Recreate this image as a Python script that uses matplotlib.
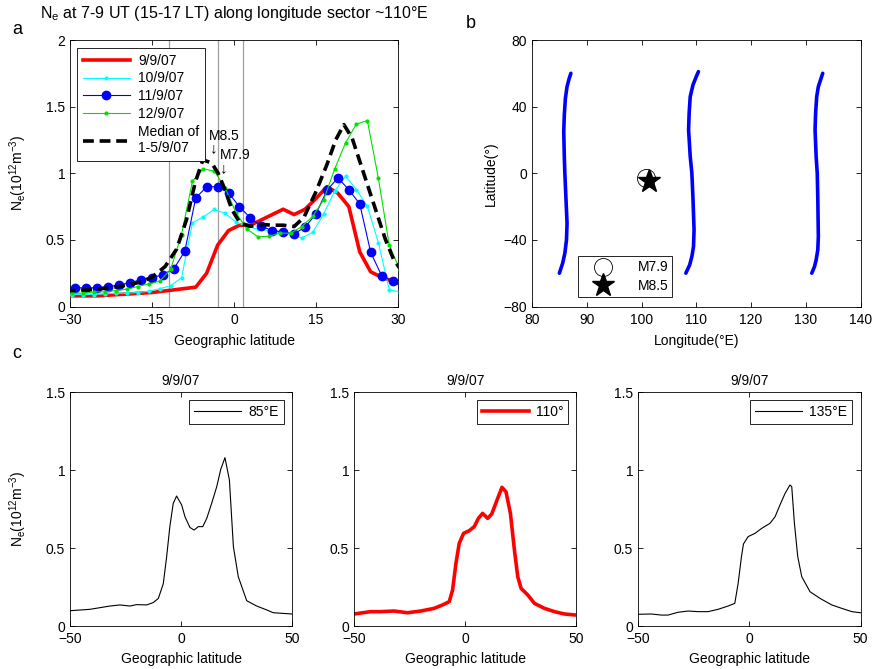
import matplotlib
matplotlib.use('Agg')
import matplotlib.pyplot as plt

plt.rcParams['font.family'] = ['Liberation Sans', 'DejaVu Sans']
plt.rcParams['font.size'] = 10
plt.rcParams['mathtext.fontset'] = 'custom'
plt.rcParams['mathtext.rm'] = 'Liberation Sans'
plt.rcParams['mathtext.it'] = 'Liberation Sans:italic'
plt.rcParams['axes.linewidth'] = 0.6
for ax_ in ('xtick', 'ytick'):
    plt.rcParams[ax_ + '.direction'] = 'in'
    plt.rcParams[ax_ + '.major.size'] = 3.5
    plt.rcParams[ax_ + '.major.width'] = 0.6
plt.rcParams['xtick.top'] = True
plt.rcParams['ytick.right'] = True
plt.rcParams['xtick.major.pad'] = 4.5
plt.rcParams['legend.fancybox'] = False
plt.rcParams['legend.framealpha'] = 1
plt.rcParams['legend.edgecolor'] = 'black'

# ---------------- panel a data ----------------
lat_a = [-31, -29, -27, -25, -23, -21, -19, -17, -15, -13, -11, -9, -7, -5, -3, -1,
         1, 3, 5, 7, 9, 11, 13, 15, 17, 19, 21, 23, 25, 27, 29, 31]
ne_0909 = [0.08, 0.08, 0.08, 0.08, 0.085, 0.09, 0.095, 0.10, 0.105, 0.115, 0.125, 0.135,
           0.145, 0.25, 0.46, 0.57, 0.61, 0.61, 0.65, 0.69, 0.73, 0.69, 0.73, 0.81,
           0.90, 0.85, 0.75, 0.41, 0.26, 0.22, 0.19, 0.16]
ne_1109 = [0.14, 0.14, 0.14, 0.14, 0.15, 0.16, 0.18, 0.20, 0.215, 0.24, 0.283, 0.415,
           0.815, 0.898, 0.90, 0.853, 0.748, 0.665, 0.602, 0.57, 0.56, 0.545, 0.595, 0.695,
           0.872, 0.965, 0.877, 0.77, 0.407, 0.232, 0.19, 0.15]
lat_b = [-31.6, -29.6, -27.6, -25.6, -23.6, -21.6, -19.6, -17.6, -15.6, -13.6, -11.6, -9.6,
         -7.6, -5.6, -3.6, -1.6, 0.4, 2.4, 4.4, 6.4, 8.4, 10.4, 12.4, 14.4, 16.4, 18.4,
         20.4, 22.4, 24.4, 26.4, 28.4, 30.4]
ne_1009 = [0.09, 0.09, 0.09, 0.09, 0.095, 0.10, 0.10, 0.105, 0.115, 0.133, 0.157, 0.215,
           0.628, 0.673, 0.728, 0.698, 0.632, 0.60, 0.58, 0.57, 0.56, 0.54, 0.515, 0.557,
           0.695, 0.865, 0.977, 0.877, 0.752, 0.48, 0.127, 0.107]
ne_1209 = [0.10, 0.10, 0.10, 0.11, 0.11, 0.12, 0.13, 0.15, 0.17, 0.19, 0.278, 0.54,
           0.94, 1.033, 1.015, 0.89, 0.70, 0.58, 0.523, 0.527, 0.55, 0.55, 0.60, 0.677,
           0.80, 1.03, 1.228, 1.37, 1.395, 0.965, 0.46, 0.272]
lat_med = [-31, -29, -27, -25, -23, -21, -19, -17, -15, -12.6, -10.5, -8.7, -7.1, -5.7,
           -4.1, -2.9, -1.65, -0.4, 1.1, 2.9, 5.4, 7, 9, 11, 12.8, 14.9, 17, 18.6, 20.1,
           21.6, 23.1, 24.7, 26.2, 27.7, 29.2, 30.6]
ne_med = [0.12, 0.12, 0.125, 0.13, 0.14, 0.15, 0.165, 0.185, 0.22, 0.30, 0.43, 0.65, 0.93,
          1.10, 1.078, 1.0, 0.877, 0.728, 0.628, 0.602, 0.615, 0.61, 0.61, 0.60, 0.67,
          0.853, 1.065, 1.25, 1.365, 1.265, 1.078, 0.877, 0.69, 0.503, 0.353, 0.27]
vlines_a = [-11.9, -2.9, 1.6]
legend_a = ['9/9/07', '10/9/07', '11/9/07', '12/9/07', 'Median of\n1-5/9/07']

# ---------------- panel b data ----------------
trk1_lat = [60, 57, 52, 45, 35, 25, 10, 0, -15, -30, -40, -48, -54, -60]
trk1_lon = [87.1, 86.8, 86.4, 86.1, 85.9, 85.8, 85.9, 86.0, 86.2, 86.4, 86.3, 86.0, 85.6, 85.0]
trk2_lat = [61, 58, 53, 46, 36, 26, 10, 0, -15, -34, -44, -50, -55, -60]
trk2_lon = [110.4, 110.0, 109.4, 108.9, 108.7, 108.6, 108.9, 109.2, 109.4, 109.6, 109.5, 109.2, 108.8, 108.1]
trk3_lat = [60, 57, 52, 46, 36, 26, 10, 0, -15, -38, -46, -52, -56, -60]
trk3_lon = [133.1, 132.8, 132.3, 132.0, 131.8, 131.7, 131.9, 132.1, 132.2, 132.3, 132.2, 131.9, 131.6, 131.1]
eq_m79 = (100.9, -2.6)
eq_m85 = (101.4, -4.5)

# ---------------- panel c data ----------------
lat_c1 = [-50, -41, -32, -27.5, -23, -20, -15.5, -12.5, -10.2, -8, -6.5, -5, -3.5, -2, 0.3,
          1.8, 4, 5.9, 7.8, 9.8, 11.6, 13.8, 16.1, 17.9, 19.8, 21.8, 23.6, 25.8, 29.6, 34.1,
          38.6, 41.6, 50]
ne_c1 = [0.098, 0.107, 0.128, 0.135, 0.128, 0.137, 0.135, 0.15, 0.177, 0.27, 0.44, 0.64,
         0.786, 0.833, 0.776, 0.70, 0.632, 0.615, 0.637, 0.637, 0.69, 0.786, 0.893, 1.004,
         1.079, 0.936, 0.509, 0.316, 0.162, 0.128, 0.103, 0.085, 0.077]
lat_c2 = [-50, -42.5, -38, -32, -26, -20, -14, -10.2, -7.2, -5.7, -4.2, -2.7, -0.75, 1.8,
          4.05, 5.9, 7.8, 10.1, 11.9, 14.3, 16.5, 18.3, 20.3, 22.1, 23.6, 25.1, 28.1, 31.1,
          35.6, 40.1, 44.6, 50]
ne_c2 = [0.077, 0.092, 0.092, 0.096, 0.085, 0.096, 0.113, 0.135, 0.156, 0.23, 0.40, 0.53,
         0.594, 0.611, 0.637, 0.69, 0.722, 0.69, 0.718, 0.808, 0.889, 0.861, 0.722, 0.487,
         0.316, 0.241, 0.199, 0.145, 0.113, 0.092, 0.077, 0.07]
lat_c3 = [-50, -44, -39.5, -36.5, -32, -27.5, -23, -18.5, -14, -9.5, -6.5, -5, -3.5, -2.6,
          -0.5, 2.6, 5.6, 9.3, 11.6, 13.8, 16.1, 18.3, 19.1, 20.3, 21.8, 23.6, 27.3, 31.8,
          37.1, 41.6, 46.1, 50]
ne_c3 = [0.075, 0.077, 0.07, 0.07, 0.088, 0.096, 0.092, 0.092, 0.107, 0.128, 0.145, 0.273,
         0.444, 0.526, 0.573, 0.594, 0.626, 0.658, 0.70, 0.776, 0.85, 0.904, 0.893, 0.658,
         0.444, 0.316, 0.22, 0.177, 0.135, 0.113, 0.092, 0.085]
labels_c = ['85\u00b0E', '110\u00b0', '135\u00b0E']
title_c = '9/9/07'

W, H = 874, 669
fig = plt.figure(figsize=(W / 100, H / 100), dpi=100)


def ax_px(l, t, r, b):
    return fig.add_axes([l / W, 1 - b / H, (r - l) / W, (b - t) / H])


ne_label = r'N$_{\rm e}$(10$^{12}$m$^{-3}$)'

# ---------- panel a ----------
axA = ax_px(70, 40, 398, 306.5)
for v in vlines_a:
    axA.axvline(v, color='#a0a0a0', lw=0.9, zorder=1)
l1, = axA.plot(lat_a, ne_0909, color='red', lw=2.6, zorder=3)
l2, = axA.plot(lat_b, ne_1009, color='cyan', lw=0.8, marker='.', ms=4, zorder=3)
l3, = axA.plot(lat_a, ne_1109, color='blue', lw=0.8, marker='o', ms=6, zorder=3)
l4, = axA.plot(lat_b, ne_1209, color='#00e000', lw=0.8, marker='.', ms=4, zorder=3)
l5, = axA.plot(lat_med, ne_med, color='black', lw=2.6, ls=(0, (3, 1.6)), zorder=4)
axA.set_xlim(-30, 30)
axA.set_ylim(0, 2)
axA.set_xticks([-30, -15, 0, 15, 30])
axA.set_yticks([0, 0.5, 1, 1.5, 2])
axA.set_yticklabels(['0', '0.5', '1', '1.5', '2'])
axA.set_xlabel('Geographic latitude', labelpad=5)
axA.set_ylabel(ne_label, labelpad=12)
axA.legend([l1, l2, l3, l4, l5], legend_a, loc='upper left', bbox_to_anchor=(0.022, 0.97),
           borderaxespad=0, handlelength=3.4, labelspacing=0.28, handletextpad=0.6,
           borderpad=0.4, fontsize=10).get_frame().set_linewidth(0.6)
axA.text(-4.55, 1.25, 'M8.5', fontsize=10)
axA.text(-3.66, 1.185, '\u2193', fontsize=11, ha='center', va='center')
axA.text(-2.6, 1.108, 'M7.9', fontsize=10)
axA.text(-1.83, 1.04, '\u2193', fontsize=11, ha='center', va='center')
fig.text(234 / W, 1 - 18 / H, r'N$_{\rm e}$ at 7-9 UT (15-17 LT) along longitude sector ~110' + '\u00b0E',
         ha='center', va='baseline', fontsize=11.5)
fig.text(12 / W, 1 - 34 / H, 'a', fontsize=13)
fig.text(466 / W, 1 - 28 / H, 'b', fontsize=13)
fig.text(12 / W, 1 - 358 / H, 'c', fontsize=13)

# ---------- panel b ----------
axB = ax_px(532, 40, 860.5, 306.5)
for lo, la in ((trk1_lon, trk1_lat), (trk2_lon, trk2_lat), (trk3_lon, trk3_lat)):
    axB.plot(lo, la, color='blue', lw=2.6, solid_capstyle='round')
h1, = axB.plot([eq_m79[0]], [eq_m79[1]], ls='none', marker='o', ms=13, mfc='white',
               mec='black', mew=0.6, zorder=4)
h2, = axB.plot([eq_m85[0]], [eq_m85[1]], ls='none', marker='*', ms=17, color='black', zorder=5)
axB.set_xlim(80, 140)
axB.set_ylim(-80, 80)
axB.set_xticks([80, 90, 100, 110, 120, 130, 140])
axB.set_yticks([-80, -40, 0, 40, 80])
axB.set_xlabel('Longitude(\u00b0E)', labelpad=5)
axB.set_ylabel('Latitude(\u00b0)', labelpad=4)
axB.legend([h1, h2], ['M7.9', 'M8.5'], loc='lower left', bbox_to_anchor=(0.139, 0.034),
           borderaxespad=0, handlelength=3.0, handletextpad=1.0, labelspacing=0.35,
           borderpad=0.3, fontsize=10).get_frame().set_linewidth(0.6)

# ---------- panel c ----------
c_specs = [(70, 292, lat_c1, ne_c1, 'black', 0.8),
           (354, 576.5, lat_c2, ne_c2, 'red', 2.6),
           (638, 860.5, lat_c3, ne_c3, 'black', 0.8)]
for i, (l, r, la, ne, col, lw) in enumerate(c_specs):
    ax = ax_px(l, 392, r, 626)
    ln, = ax.plot(la, ne, color=col, lw=lw)
    ax.set_xlim(-50, 50)
    ax.set_ylim(0, 1.5)
    ax.set_xticks([-50, 0, 50])
    ax.set_yticks([0, 0.5, 1, 1.5])
    ax.set_yticklabels(['0', '0.5', '1', '1.5'])
    ax.set_xlabel('Geographic latitude', labelpad=4.5)
    ax.set_title(title_c, fontsize=10, pad=5)
    if i == 0:
        ax.set_ylabel(ne_label, labelpad=12)
    ax.legend([ln], [labels_c[i]], loc='upper right', borderaxespad=0.6, handlelength=3.4,
              handletextpad=0.5, borderpad=0.35, fontsize=10).get_frame().set_linewidth(0.6)

fig.savefig('out.png', dpi=100)
